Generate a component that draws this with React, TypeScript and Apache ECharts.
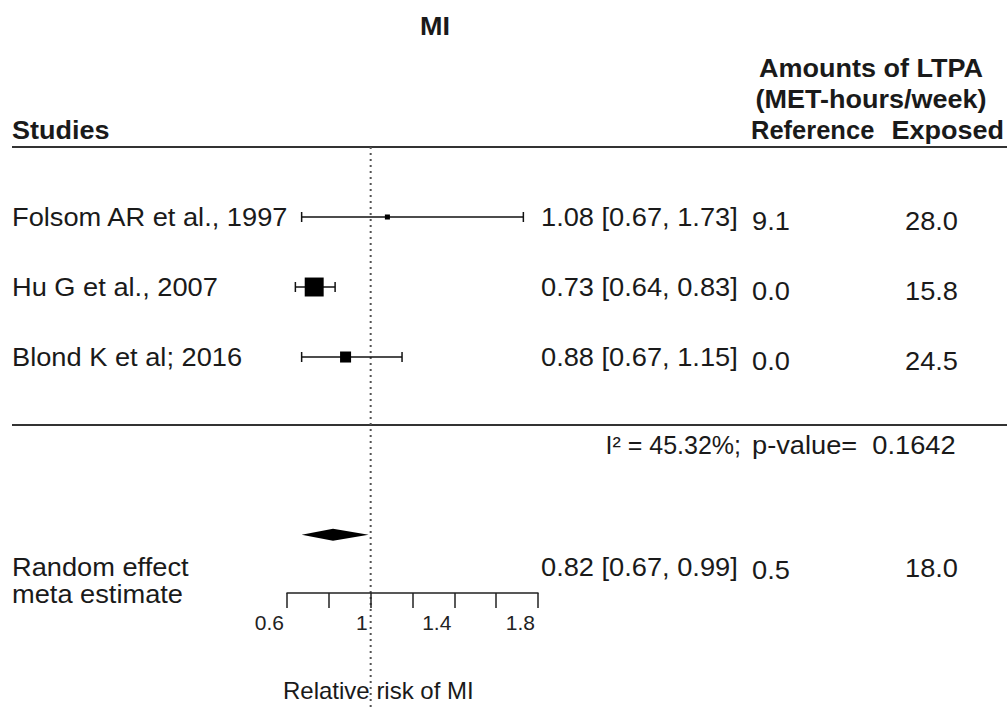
import React, { useEffect, useRef } from "react";
import * as echarts from "echarts";

// ---- data ----
const studies = ["Folsom AR et al., 1997", "Hu G et al., 2007", "Blond K et al; 2016"];
const rr = [1.08, 0.73, 0.88];
const lower = [0.67, 0.64, 0.67];
const upper = [1.73, 0.83, 1.15];
const weights = [5, 71, 24];
const refAmounts = ["9.1", "0.0", "0.0"];
const expAmounts = ["28.0", "15.8", "24.5"];
const metaRR = 0.82;
const metaLower = 0.67;
const metaUpper = 0.99;
const metaRef = "0.5";
const metaExp = "18.0";
const i2Text = "45.32%";
const pValueText = "0.1642";
const xTickLabels = ["0.6", "1", "1.4", "1.8"];

// ---- layout (row positions on hidden y axis) ----
const studyRows = [1, 2, 3];
const metaDiamondRow = 5.54;
const metaTextRow = 6;
const yMax = 6.371;

const FONT = "Liberation Sans, Arial, Helvetica, sans-serif";
const fmt = (v: number) => v.toFixed(2);

export default function App() {
  const ref = useRef<HTMLDivElement>(null);
  useEffect(() => {
    const chart = echarts.init(ref.current!, null, { renderer: "svg" });
    const studyData = studies.map((s, i) => [lower[i], upper[i], rr[i], studyRows[i], weights[i]]);
    chart.setOption({
      animation: false,
      grid: { left: 287, right: 1007 - 538, top: 147, bottom: 708 - 593, containLabel: false },
      xAxis: {
        type: "value",
        position: "bottom",
        min: 0.6,
        max: 1.8,
        interval: 0.2,
        splitLine: { show: false },
        axisLine: { show: true, onZero: false, lineStyle: { color: "#222", width: 1.5 } },
        axisTick: { show: true, length: 15, lineStyle: { color: "#222", width: 1.5 } },
        axisLabel: {
          color: "#222",
          fontSize: 21,
          fontFamily: FONT,
          margin: 19,
          align: "right",
          padding: [0, 3, 0, 0],
          formatter: (v: number) => {
            const s = String(Math.round(v * 10) / 10);
            return xTickLabels.indexOf(s) >= 0 ? s : "";
          },
        },
      },
      yAxis: { type: "value", inverse: true, min: 0, max: yMax, show: false },
      series: [
        {
          type: "custom",
          data: studyData,
          renderItem: (params: any, api: any) => {
            const lo = api.coord([api.value(0), api.value(3)]);
            const hi = api.coord([api.value(1), api.value(3)]);
            const pt = api.coord([api.value(2), api.value(3)]);
            const size = 2.25 * Math.sqrt(api.value(4));
            const ls = { stroke: "#111", lineWidth: 1.5 };
            return {
              type: "group",
              children: [
                { type: "line", shape: { x1: lo[0], y1: lo[1], x2: hi[0], y2: hi[1] }, style: ls },
                { type: "line", shape: { x1: lo[0], y1: lo[1] - 5, x2: lo[0], y2: lo[1] + 5 }, style: ls },
                { type: "line", shape: { x1: hi[0], y1: hi[1] - 5, x2: hi[0], y2: hi[1] + 5 }, style: ls },
                {
                  type: "rect",
                  shape: { x: pt[0] - size / 2, y: pt[1] - size / 2, width: size, height: size },
                  style: { fill: "#000" },
                },
              ],
            };
          },
        },
        {
          type: "custom",
          data: [[metaLower, metaUpper, metaRR, metaDiamondRow]],
          renderItem: (params: any, api: any) => {
            const lo = api.coord([api.value(0), api.value(3)]);
            const hi = api.coord([api.value(1), api.value(3)]);
            const pt = api.coord([api.value(2), api.value(3)]);
            const h = 6;
            return {
              type: "polygon",
              shape: { points: [[lo[0], lo[1]], [pt[0], pt[1] - h], [hi[0], hi[1]], [pt[0], pt[1] + h]] },
              style: { fill: "#000" },
            };
          },
        },
      ],
    });

    const px = (v: number) => chart.convertToPixel({ xAxisIndex: 0 }, v) as number;
    const py = (v: number) => chart.convertToPixel({ yAxisIndex: 0 }, v) as number;

    const txt = (text: string, x: number, y: number, align = "left", bold = false, size = 25, sx = 1.09) => ({
      type: "text",
      x,
      y,
      scaleX: sx,
      silent: true,
      style: {
        text,
        x: 0,
        y: 0,
        align,
        verticalAlign: "middle",
        fill: "#1a1a1a",
        font: `${bold ? "bold " : ""}${size}px ${FONT}`,
      },
    });

    const elements: any[] = [];
    // header
    elements.push(txt("MI", 435, 26, "center", true, 25, 1.08));
    elements.push(txt("Amounts of LTPA", 871, 68, "center", true, 25, 1.08));
    elements.push(txt("(MET-hours/week)", 871, 99, "center", true, 25, 1.08));
    elements.push(txt("Studies", 12, 130, "left", true, 25, 1.08));
    elements.push(txt("Reference", 751, 130, "left", true, 25, 1.02));
    elements.push(txt("Exposed", 1004, 130, "right", true, 25, 1.08));
    // rules
    elements.push({
      type: "line",
      shape: { x1: 12, y1: py(0), x2: 1007, y2: py(0) },
      style: { stroke: "#333", lineWidth: 2 },
    });
    const sepY = py(4) - 2;
    elements.push({
      type: "line",
      shape: { x1: 12, y1: sepY, x2: 1007, y2: sepY },
      style: { stroke: "#333", lineWidth: 2 },
    });
    // dotted reference line at RR = 1
    const x1 = px(1);
    elements.push({
      type: "line",
      shape: { x1, y1: py(0), x2: x1, y2: 708 },
      style: { stroke: "#555", lineWidth: 2, lineDash: [2, 4] },
    });
    // study rows
    studies.forEach((s, i) => {
      const y = py(studyRows[i]);
      elements.push(txt(s, 12, y));
      elements.push(txt(`${fmt(rr[i])} [${fmt(lower[i])}, ${fmt(upper[i])}]`, 541, y));
      elements.push(txt(refAmounts[i], 752, y + 4));
      elements.push(txt(expAmounts[i], 905, y + 4));
    });
    // heterogeneity
    const hy = py(4.26);
    elements.push(txt(`I² = ${i2Text};`, 741, hy, "right", false, 25, 1.0));
    elements.push(txt(`p-value=  ${pValueText}`, 752, hy));
    // meta
    const my = py(metaTextRow);
    elements.push(txt("Random effect", 12, my));
    elements.push(txt("meta estimate", 12, my + 27));
    elements.push(txt(`${fmt(metaRR)} [${fmt(metaLower)}, ${fmt(metaUpper)}]`, 541, my));
    elements.push(txt(metaRef, 752, my + 3));
    elements.push(txt(metaExp, 905, my + 1));
    // axis title
    elements.push(txt("Relative risk of MI", 283, 690, "left", false, 24, 1));

    chart.setOption({ graphic: { elements } });
    return () => chart.dispose();
  }, []);
  return (
    <div
      ref={ref}
      style={{ position: "fixed", left: 0, top: 0, width: 1007, height: 708, background: "#fff" }}
    />
  );
}
